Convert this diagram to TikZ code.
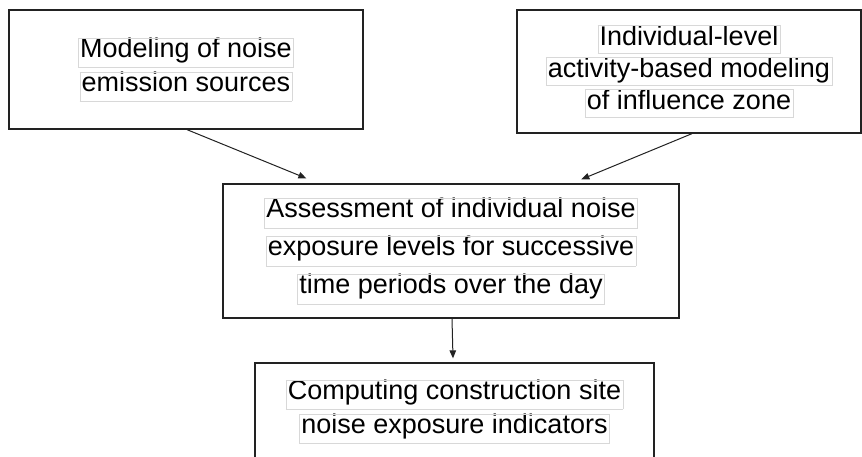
\documentclass[tikz,border=0pt]{standalone}
\usepackage{fontspec}
\setmainfont{Liberation Sans}
\usetikzlibrary{arrows.meta,calc}
\definecolor{hlgray}{HTML}{D8D8D8}
\definecolor{boxline}{HTML}{222222}
\newcommand\hlline[2]{{\setlength\fboxsep{0pt}\setlength\fboxrule{0.5pt}\fcolorbox{hlgray}{white}{\rule[-0.26\dimexpr#1\relax]{0pt}{0.71\dimexpr#1\relax}\hspace{1.5pt}#2\hspace{1.5pt}}}}
\tikzset{
  stagebox/.style={draw=boxline, line width=1.3pt, fill=white, inner sep=0pt, align=center},
  flowarrow/.style={draw=boxline, line width=1pt, -{Triangle[length=8pt,width=6.5pt]}}
}
\begin{document}
\begin{tikzpicture}[x=1pt,y=-1pt]
\useasboundingbox[fill=white] (0,0) rectangle (862,457);
\node[stagebox, minimum width=354pt, minimum height=119pt,
      font={\fontsize{27}{34}\selectfont}] (src) at (186,69.5)
  {\hlline{34pt}{Modeling of noise}\\\hlline{34pt}{emission sources}};
\node[stagebox, minimum width=344pt, minimum height=123pt,
      font={\fontsize{27}{32}\selectfont}] (act) at (689,71.5)
  {\hlline{32pt}{Individual-level}\\\hlline{32pt}{activity-based modeling}\\\hlline{32pt}{of influence zone}};
\node[stagebox, minimum width=456pt, minimum height=134pt,
      font={\fontsize{27}{38}\selectfont}] (ass) at (451,251)
  {\hlline{38pt}{Assessment of individual noise}\\\hlline{38pt}{exposure levels for successive}\\\hlline{38pt}{time periods over the day}};
\node[stagebox, minimum width=399pt, minimum height=97pt,
      font={\fontsize{27}{34}\selectfont}] (ind) at (454.5,411.5)
  {\hlline{34pt}{Computing construction site}\\\hlline{34pt}{noise exposure indicators}};
\draw[flowarrow] ([xshift=1pt]src.south) -- ([xshift=84pt,yshift=5pt]ass.north west);
\draw[flowarrow] ([xshift=3pt]act.south) -- ([xshift=359pt,yshift=4pt]ass.north west);
\draw[flowarrow] ([xshift=1pt]ass.south) -- ([xshift=-1.5pt,yshift=4pt]ind.north);
\end{tikzpicture}
\end{document}
